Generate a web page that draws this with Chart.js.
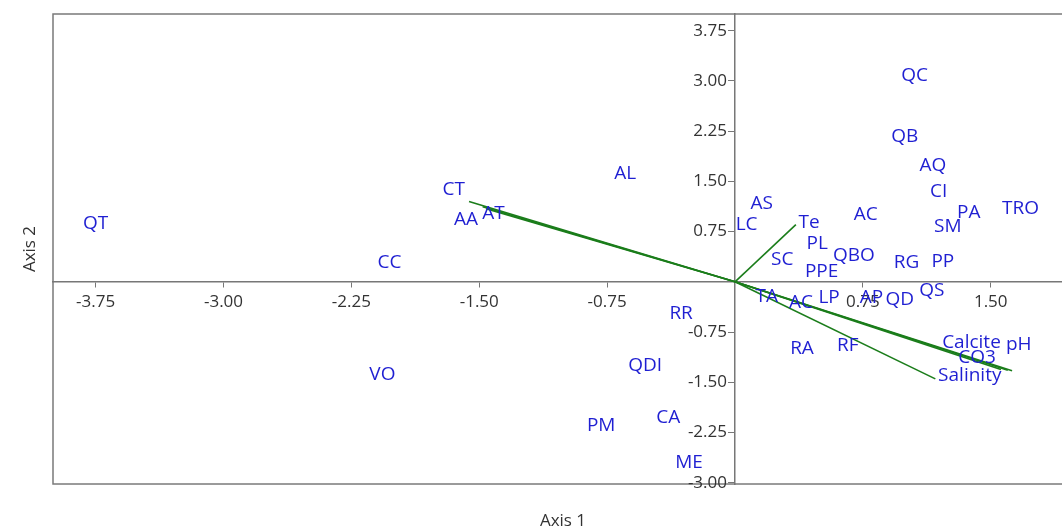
<!DOCTYPE html>
<html>
<head>
<meta charset="utf-8">
<script src="https://cdn.jsdelivr.net/npm/chart.js@4"></script>
<style>
  html, body { margin: 0; padding: 0; background: #fff; overflow: hidden; }
  #wrap { width: 1090px; height: 532px; }
</style>
</head>
<body>
<div id="wrap"><canvas id="biplot"></canvas></div>
<script>
// point labels (taxa + variable names)
var labelNames = ["QT", "CC", "VO", "CT", "AA", "AT", "AL", "RR", "QDI", "PM", "CA", "ME",
  "AS", "LC", "PL", "SC", "QBO", "PPE", "AC", "RG", "TA", "AC", "LP", "AP", "QD",
  "QC", "QB", "AQ", "CI", "PA", "SM", "TRO", "PP", "QS", "RA", "RF",
  "Te", "Calcite", "CO3", "pH", "Salinity"];
var labelX = [-3.75, -2.027, -2.068, -1.65, -1.578, -1.416, -0.644, -0.316, -0.527, -0.785, -0.392, -0.27,
  0.156, 0.068, 0.482, 0.277, 0.697, 0.508, 0.767, 1.006, 0.186, 0.387, 0.552, 0.80, 0.967,
  1.054, 0.996, 1.16, 1.195, 1.371, 1.248, 1.675, 1.219, 1.154, 0.393, 0.662,
  0.434, 1.387, 1.42, 1.664, 1.377];
var labelY = [0.865, 0.28, -1.384, 1.375, 0.935, 1.025, 1.615, -0.47, -1.25, -2.15, -2.03, -2.70,
  1.175, 0.86, 0.575, 0.336, 0.39, 0.16, 1.0, 0.285, -0.215, -0.31, -0.235, -0.235, -0.265,
  3.08, 2.17, 1.735, 1.345, 1.03, 0.82, 1.09, 0.295, -0.125, -0.994, -0.95,
  0.89, -0.915, -1.135, -0.934, -1.40];

// environmental vectors, end points
var vectorX = [0.357, 1.56, 1.60, 1.625, 1.175, -1.56, -1.48, -1.46];
var vectorY = [0.855, -1.31, -1.32, -1.33, -1.45, 1.20, 1.12, 1.09];

var xTicks = [-3.75, -3.00, -2.25, -1.50, -0.75, 0.75, 1.50];
var yTicks = [-3.00, -2.25, -1.50, -0.75, 0.75, 1.50, 2.25, 3.00, 3.75];

var labelColor = "#1f1fd2";
var lineColor = "#1b7d1b";

var datasets = [];
for (var i = 0; i < vectorX.length; i++) {
  datasets.push({
    type: "line",
    data: [{ x: 0, y: 0 }, { x: vectorX[i], y: vectorY[i] }],
    borderColor: lineColor,
    borderWidth: 1.6,
    pointRadius: 0,
    fill: false,
  });
}
datasets.push({
  type: "scatter",
  data: labelX.map(function (x, i) { return { x: x, y: labelY[i] }; }),
  pointRadius: 0,
});

function fmt(v) { return Number(v).toFixed(2); }

// frame, axis titles, y tick labels and text labels
const decor = {
  id: "decor",
  beforeDraw(chart) {
    const a = chart.chartArea, ctx = chart.ctx;
    ctx.save();
    ctx.strokeStyle = "#7a7a7a";
    ctx.lineWidth = 1.5;
    ctx.strokeRect(a.left, a.top, a.right - a.left, a.bottom - a.top);
    ctx.fillStyle = "#333";
    ctx.font = "17px 'Open Sans'";
    ctx.textAlign = "center";
    ctx.textBaseline = "middle";
    ctx.fillText("Axis 1", 563, 521);
    ctx.translate(30, 249);
    ctx.rotate(-Math.PI / 2);
    ctx.fillText("Axis 2", 0, 0);
    ctx.restore();
  },
  afterDraw(chart) {
    // y labels sit left of the centred axis (chart.js puts them on the line)
    const ctx = chart.ctx, sx = chart.scales.x, sy = chart.scales.y;
    const x0 = sx.getPixelForValue(0);
    ctx.save();
    ctx.fillStyle = "#333";
    ctx.font = "17px 'Open Sans'";
    ctx.textAlign = "right";
    ctx.textBaseline = "middle";
    sy.ticks.forEach(function (t) {
      ctx.fillText(fmt(t.value), x0 - 8, sy.getPixelForValue(t.value));
    });
    ctx.restore();
  },
  afterDatasetsDraw(chart) {
    const ctx = chart.ctx, sx = chart.scales.x, sy = chart.scales.y;
    ctx.save();
    ctx.fillStyle = labelColor;
    ctx.font = "19px 'Open Sans'";
    ctx.textAlign = "center";
    ctx.textBaseline = "middle";
    labelNames.forEach(function (name, i) {
      ctx.fillText(name, sx.getPixelForValue(labelX[i]), sy.getPixelForValue(labelY[i]));
    });
    ctx.restore();
  },
};

function fixTicks(values) {
  return function (scale) {
    scale.ticks = values.map(function (v) { return { value: v }; });
  };
}

new Chart(document.getElementById("biplot"), {
  type: "scatter",
  data: { datasets: datasets },
  options: {
    responsive: true,
    maintainAspectRatio: false,
    animation: false,
    layout: { padding: { left: 53, top: 14, right: 14, bottom: 48 } },
    plugins: { legend: { display: false }, tooltip: { enabled: false } },
    scales: {
      x: {
        type: "linear",
        min: -4,
        max: 2,
        position: { y: 0 },
        afterBuildTicks: fixTicks(xTicks),
        border: { display: true, color: "#777", width: 1.5 },
        grid: { drawOnChartArea: false, drawTicks: true, tickLength: 5, color: "#777" },
        ticks: {
          color: "#333",
          font: { family: "'Open Sans'", size: 17 },
          padding: 5,
          maxRotation: 0,
          autoSkip: false,
          callback: fmt,
        },
      },
      y: {
        type: "linear",
        min: -3.02,
        max: 4,
        position: { x: 0 },
        afterBuildTicks: fixTicks(yTicks),
        border: { display: true, color: "#777", width: 1.5 },
        grid: { drawOnChartArea: false, drawTicks: true, tickLength: 6, color: "#777" },
        ticks: { display: false },
      },
    },
  },
  plugins: [decor],
});
</script>
</body>
</html>
